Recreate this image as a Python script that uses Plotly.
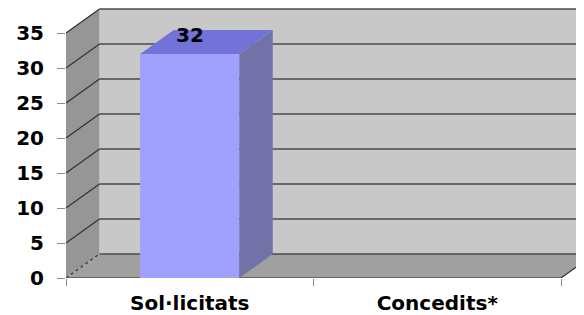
import plotly.graph_objects as go

categories = ["Sol·licitats", "Concedits*"]
values = [32, None]
y_ticks = [0, 5, 10, 15, 20, 25, 30, 35]
data_labels = ["32", ""]

# 3D look parameters (in axis units)
DX = 0.1354   # depth offset along x (category units)
DY = 3.43     # depth offset along y (value units)
BAR_W = 0.40
X0, X1 = -0.5, 1.5
YMAX = 35

WALL = "#c8c8c8"
SIDE = "#969696"
FLOOR = "#a0a0a0"
GRID = "#4a4a4a"
FRONT = "#a0a0ff"
TOP = "#7272d8"
RSIDE = "#7272a8"

def poly(pts):
    return "M " + " L ".join(f"{x},{y}" for x, y in pts) + " Z"

shapes = []
# back wall
shapes.append(dict(type="rect", xref="x", yref="y", layer="below",
                   x0=X0 + DX, x1=X1 + DX + 1, y0=DY, y1=YMAX + DY,
                   fillcolor=WALL, line=dict(width=0)))
# left side wall
shapes.append(dict(type="path", xref="x", yref="y", layer="below",
                   path=poly([(X0, 0), (X0, YMAX), (X0 + DX, YMAX + DY), (X0 + DX, DY)]),
                   fillcolor=SIDE, line=dict(width=0)))
# floor
shapes.append(dict(type="path", xref="x", yref="y", layer="below",
                   path=poly([(X0, 0), (X1, 0), (X1 + DX, DY), (X0 + DX, DY)]),
                   fillcolor=FLOOR, line=dict(width=0)))
# gridlines on back wall + side wall diagonals
for t in y_ticks:
    shapes.append(dict(type="line", xref="x", yref="y", layer="below",
                       x0=X0 + DX, x1=X1 + DX + 1, y0=t + DY, y1=t + DY,
                       line=dict(color=GRID, width=1.6)))
    shapes.append(dict(type="line", xref="x", yref="y", layer="below",
                       x0=X0, x1=X0 + DX, y0=t, y1=t + DY,
                       line=dict(color="#333333", width=1.2,
                                 dash="dot" if t == 0 else "solid")))
# front floor edge and right floor edge
shapes.append(dict(type="line", xref="x", yref="y", layer="below",
                   x0=X0, x1=X1, y0=0, y1=0, line=dict(color="#555555", width=1.5)))
shapes.append(dict(type="line", xref="x", yref="y", layer="below",
                   x0=X1, x1=X1 + DX, y0=0, y1=DY, line=dict(color="#333333", width=1.2)))

# bar 3D faces
annotations = []
for i, (v, lab) in enumerate(zip(values, data_labels)):
    if v is None:
        continue
    l, r = i - BAR_W / 2, i + BAR_W / 2
    shapes.append(dict(type="path", xref="x", yref="y", layer="above",
                       path=poly([(l, v), (r, v), (r + DX, v + DY), (l + DX, v + DY)]),
                       fillcolor=TOP, line=dict(width=0)))
    shapes.append(dict(type="path", xref="x", yref="y", layer="above",
                       path=poly([(r, 0), (r + DX, DY), (r + DX, v + DY), (r, v)]),
                       fillcolor=RSIDE, line=dict(width=0)))
    annotations.append(dict(x=i, y=v + 0.8 * DY, xref="x", yref="y", text=lab,
                            showarrow=False, yanchor="middle", xanchor="center",
                            font=dict(family="DejaVu Sans", size=20, color="#000000",
                                      weight="bold")))

fig = go.Figure(go.Bar(x=categories, y=values, width=BAR_W,
                       marker=dict(color=FRONT, line=dict(width=0)),
                       hoverinfo="skip"))

# page body has an 8px margin, so the figure is 8px smaller in each direction
fig.update_layout(
    width=576, height=307,
    margin=dict(l=58, r=0, t=0, b=37, autoexpand=False),
    paper_bgcolor="white", plot_bgcolor="white",
    shapes=shapes, annotations=annotations,
    showlegend=False, bargap=0,
    font=dict(family="DejaVu Sans", size=20, color="#000000", weight="bold"),
)
fig.update_xaxes(type="category", range=[-0.5, -0.5 + 518 / 247.5],
                 showgrid=False, zeroline=False, showline=False,
                 tickson="boundaries", ticks="outside", ticklen=7, tickcolor="#888888",
                 tickfont=dict(family="DejaVu Sans", size=20, color="#000000", weight="bold"),
                 ticklabelstandoff=11, automargin=False)
fig.update_yaxes(range=[0, 270 / 7], tickmode="array", tickvals=y_ticks,
                 showgrid=False, zeroline=False, showline=False,
                 ticks="outside", ticklen=8, tickcolor="#888888",
                 tickfont=dict(family="DejaVu Sans", size=20, color="#000000", weight="bold"),
                 ticklabelstandoff=9, automargin=False)

fig.write_html("out.html")
